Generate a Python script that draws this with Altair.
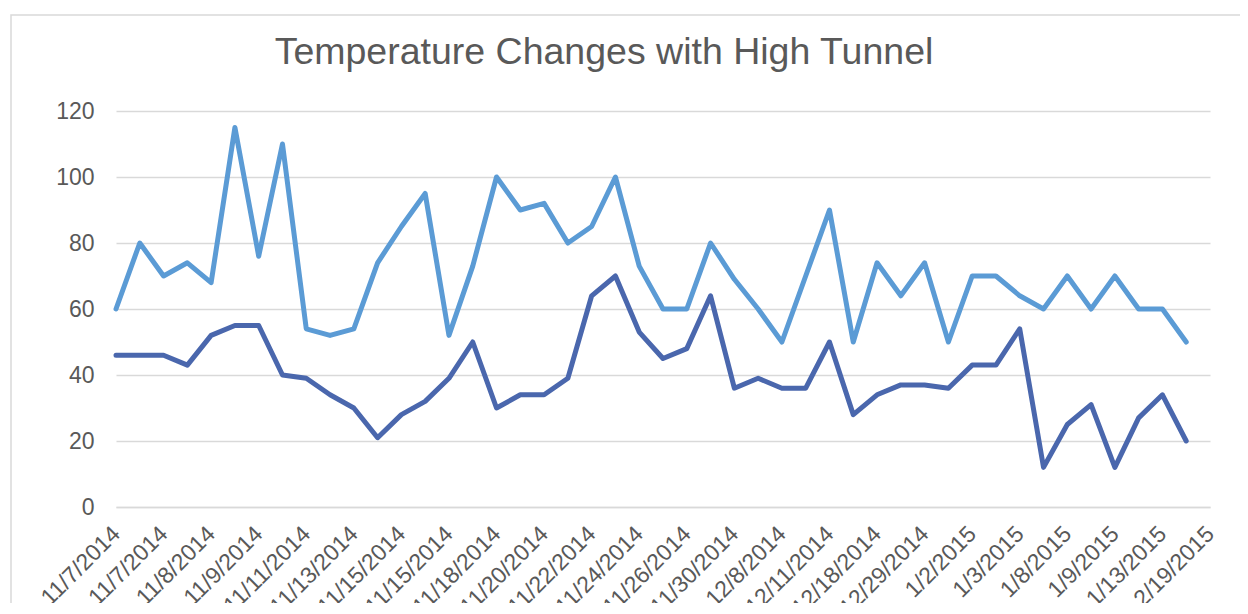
import altair as alt
import pandas as pd

# Tick labels shown on the category axis (every other category)
tick_labels = [
    "11/7/2014", "11/7/2014", "11/8/2014", "11/9/2014", "11/11/2014", "11/13/2014",
    "11/15/2014", "11/15/2014", "11/18/2014", "11/20/2014", "11/22/2014", "11/24/2014",
    "11/26/2014", "11/30/2014", "12/8/2014", "12/11/2014", "12/18/2014", "12/29/2014",
    "1/2/2015", "1/3/2015", "1/8/2015", "1/9/2015", "1/13/2015", "2/19/2015",
]
n_categories = 47  # last category (2/19/2015) has no readings

# Light blue series (upper line)
inside_tunnel = [
    60, 80, 70, 74, 68, 115, 76, 110, 54, 52, 54, 74, 85, 95, 52, 73,
    100, 90, 92, 80, 85, 100, 73, 60, 60, 80, 69, 60, 50, 70, 90, 50,
    74, 64, 74, 50, 70, 70, 64, 60, 70, 60, 70, 60, 60, 50,
]
# Dark blue series (lower line)
outside = [
    46, 46, 46, 43, 52, 55, 55, 40, 39, 34, 30, 21, 28, 32, 39, 50,
    30, 34, 34, 39, 64, 70, 53, 45, 48, 64, 36, 39, 36, 36, 50, 28,
    34, 37, 37, 36, 43, 43, 54, 12, 25, 31, 12, 27, 34, 20,
]
series_names = ["High Tunnel", "Outside"]
series_colors = ["#5B9BD5", "#4A67AD"]
title_text = "Temperature Changes with High Tunnel"

rows = []
for i, v in enumerate(inside_tunnel):
    rows.append({"idx": i, "temp": v, "series": series_names[0]})
for i, v in enumerate(outside):
    rows.append({"idx": i, "temp": v, "series": series_names[1]})
df = pd.DataFrame(rows)

label_array = "[" + ",".join("'" + t + "'" for t in tick_labels) + "]"
label_expr = label_array + "[round(datum.value / 2)]"

FONT = "Liberation Sans"
TEXT = "#595959"
GRID = "#D9D9D9"

W, H = 1094, 396

lines = alt.Chart(df).mark_line(
    strokeWidth=5, strokeCap="round", strokeJoin="round"
).encode(
    x=alt.X(
        "idx:Q",
        scale=alt.Scale(domain=[0, n_categories - 1], nice=False, zero=False),
        axis=alt.Axis(
            values=list(range(0, n_categories, 2)),
            labelExpr=label_expr,
            labelAngle=-45,
            labelAlign="right",
            labelBaseline="middle",
            labelPadding=23,
            labelFont=FONT,
            labelFontSize=23,
            labelColor=TEXT,
            labelOverlap=False,
            labelFlush=False,
            ticks=False,
            grid=False,
            domain=True,
            domainColor=GRID,
            domainWidth=1.5,
            title=None,
        ),
    ),
    y=alt.Y(
        "temp:Q",
        scale=alt.Scale(domain=[0, 120], nice=False),
        axis=alt.Axis(
            values=[0, 20, 40, 60, 80, 100, 120],
            labelFont=FONT,
            labelFontSize=23,
            labelColor=TEXT,
            labelPadding=22,
            ticks=False,
            domain=False,
            grid=True,
            gridColor=GRID,
            gridWidth=1.5,
            title=None,
        ),
    ),
    color=alt.Color(
        "series:N",
        scale=alt.Scale(domain=series_names, range=series_colors),
        legend=None,
    ),
    order=alt.Order("idx:Q"),
)

one_row = pd.DataFrame({"k": [0]})

frame = alt.Chart(one_row).mark_rect(
    fillOpacity=0, stroke=GRID, strokeWidth=1.5
).encode(
    x=alt.value(-105), x2=alt.value(1300),
    y=alt.value(-96), y2=alt.value(700),
)

title = alt.Chart(one_row).mark_text(
    text=title_text,
    font=FONT,
    fontSize=37.5,
    color=TEXT,
    align="center",
    baseline="alphabetic",
).encode(
    x=alt.value(488),
    y=alt.value(-47),
)

chart = alt.layer(frame, lines, title).properties(
    width=W,
    height=H,
    padding={"left": 108, "top": 103, "right": 30, "bottom": 96},
    autosize=alt.AutoSizeParams(type="none"),
    background="white",
).configure_view(stroke=None)

chart.save("out.html", embed_options={"renderer": "svg", "actions": False})
